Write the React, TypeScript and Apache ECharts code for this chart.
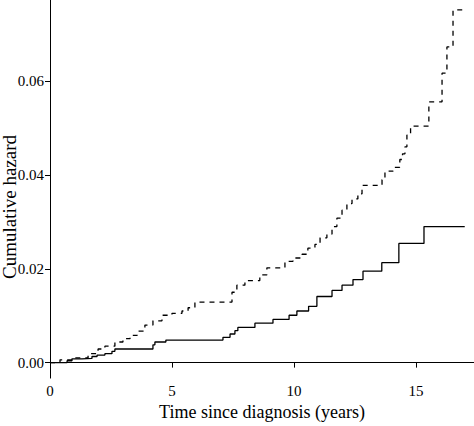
import React, { useEffect, useRef } from 'react';
import * as echarts from 'echarts';

// time since diagnosis (years) at each jump, and cumulative hazard after it
const solidTimes = [0, 0.7, 0.9, 1.31, 1.72, 1.93, 2.25, 2.54, 2.66, 4.22, 4.3, 4.75, 7.09, 7.38, 7.58, 7.7, 8.4, 9.14, 9.8, 10.12, 10.6, 10.94, 11.56, 11.97, 12.42, 12.83, 13.6, 14.3, 15.33, 17.0];
const solidHazard = [0, 0.0004, 0.0008, 0.0009, 0.0013, 0.0016, 0.0019, 0.0024, 0.0029, 0.0038, 0.0044, 0.0048, 0.0054, 0.0061, 0.0068, 0.0075, 0.0084, 0.0092, 0.0101, 0.011, 0.012, 0.0141, 0.0154, 0.0165, 0.0177, 0.0195, 0.0213, 0.0254, 0.029, 0.029];

const dashedTimes = [0, 0.41, 1.02, 1.56, 1.97, 2.25, 2.66, 2.99, 3.28, 3.57, 3.89, 4.22, 4.59, 5.0, 5.41, 5.66, 5.94, 7.46, 7.66, 7.99, 8.6, 8.89, 9.63, 9.96, 10.33, 10.57, 10.86, 11.07, 11.35, 11.56, 11.76, 11.97, 12.17, 12.38, 12.62, 12.79, 13.61, 13.73, 14.06, 14.34, 14.45, 14.55, 14.63, 14.78, 15.53, 16.07, 16.27, 16.52, 17.0];
const dashedHazard = [0, 0.0006, 0.001, 0.0019, 0.0029, 0.0035, 0.0044, 0.0051, 0.0058, 0.0067, 0.008, 0.0089, 0.0101, 0.0105, 0.011, 0.0117, 0.0129, 0.015, 0.0165, 0.0175, 0.0187, 0.0202, 0.0216, 0.0223, 0.0231, 0.0244, 0.0252, 0.0266, 0.0274, 0.029, 0.0308, 0.0325, 0.0339, 0.0349, 0.036, 0.0378, 0.039, 0.0408, 0.0416, 0.0433, 0.0445, 0.046, 0.0485, 0.0504, 0.0556, 0.0617, 0.0673, 0.0752, 0.0752];

const xTicks = [0, 5, 10, 15];
const yTicks = [0, 0.02, 0.04, 0.06];

const font = '"Liberation Serif", "Times New Roman", serif';

const pairs = (xs: number[], ys: number[]) => xs.map((x, i) => [x, ys[i]]);

const App: React.FC = () => {
  const chartRef = useRef<HTMLDivElement>(null);

  useEffect(() => {
    const chart = echarts.init(chartRef.current!, null, { renderer: 'svg' });
    const option: echarts.EChartsOption = {
      animation: false,
      backgroundColor: '#fff',
      grid: { left: 50, right: 0, top: 0, bottom: 39 },
      xAxis: {
        type: 'value',
        min: 0,
        max: 17.38,
        name: 'Time since diagnosis (years)',
        nameLocation: 'middle',
        nameGap: 21,
        nameTextStyle: { fontFamily: font, fontSize: 18, color: '#000' },
        axisLine: { lineStyle: { color: '#000', width: 1 } },
        axisTick: { customValues: xTicks, length: 5, lineStyle: { color: '#000' } },
        axisLabel: { customValues: xTicks, margin: 5, fontFamily: font, fontSize: 15, color: '#000' },
        splitLine: { show: false },
      },
      yAxis: {
        type: 'value',
        min: -0.0033,
        max: 0.0773,
        axisLine: { show: true, lineStyle: { color: '#000', width: 1 } },
        axisTick: { show: true, customValues: yTicks, length: 5, lineStyle: { color: '#000' } },
        axisLabel: {
          customValues: yTicks,
          margin: 6,
          fontFamily: font,
          fontSize: 15,
          color: '#000',
          formatter: (v: number) => v.toFixed(2),
        },
        splitLine: { show: false },
      },
      graphic: [
        {
          type: 'text',
          x: 9,
          y: 207,
          rotation: Math.PI / 2,
          style: {
            text: 'Cumulative hazard',
            font: `19px ${font}`,
            fill: '#000',
            textAlign: 'center',
            textVerticalAlign: 'middle',
          },
        },
      ],
      series: [
        {
          type: 'line',
          step: 'end',
          showSymbol: false,
          data: pairs(solidTimes, solidHazard),
          lineStyle: { color: '#000', width: 1.3 },
        },
        {
          type: 'line',
          step: 'end',
          showSymbol: false,
          data: pairs(dashedTimes, dashedHazard),
          lineStyle: { color: '#000', width: 1.3, type: [5, 5] },
        },
      ],
    };
    chart.setOption(option);
    return () => {
      chart.dispose();
    };
  }, []);

  return (
    <div
      ref={chartRef}
      style={{ position: 'absolute', left: 0, top: 0, width: 474, height: 426 }}
    />
  );
};

export default App;
